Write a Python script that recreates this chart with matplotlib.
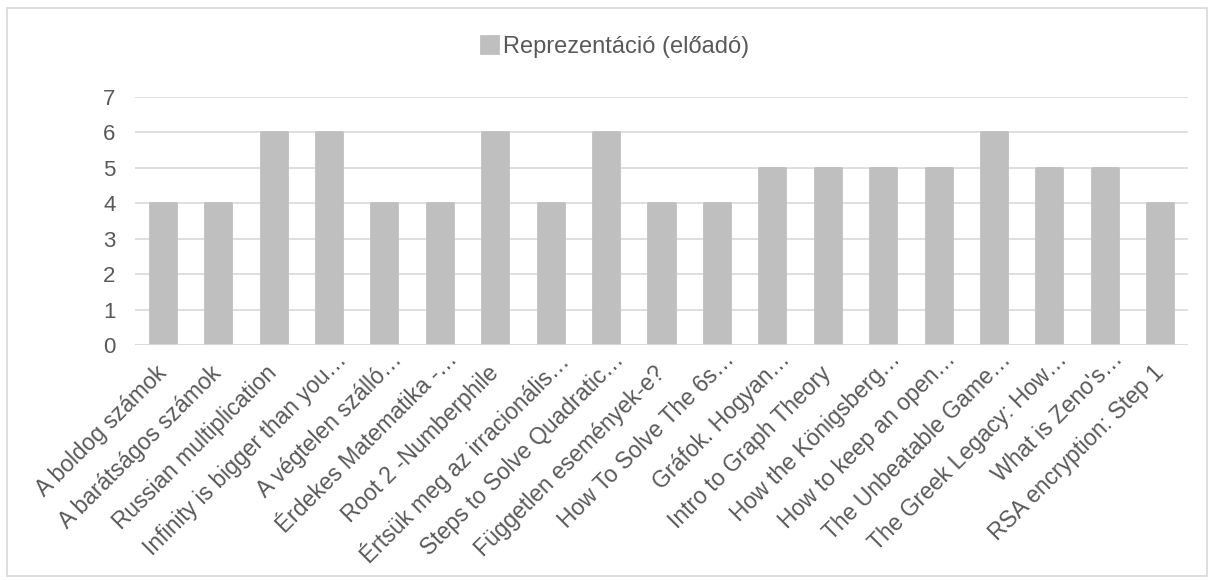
import matplotlib
matplotlib.use("Agg")
import matplotlib.pyplot as plt
from matplotlib.patches import Rectangle
from matplotlib.transforms import ScaledTranslation

categories = [
    "A boldog számok", "A barátságos számok", "Russian multiplication",
    "Infinity is bigger than you…", "A végtelen szálló…", "Érdekes Matematika -…",
    "Root 2 -Numberphile", "Értsük meg az irracionális…", "Steps to Solve Quadratic…",
    "Független események-e?", "How To Solve The 6s…", "Gráfok. Hogyan…",
    "Intro to Graph Theory", "How the Königsberg…", "How to keep an open…",
    "The Unbeatable Game…", "The Greek Legacy: How…", "What is Zeno's…",
    "RSA encryption: Step 1",
]
values = [4, 4, 6, 6, 4, 4, 6, 4, 6, 4, 4, 5, 5, 5, 5, 6, 5, 5, 4]
series_name = "Reprezentáció (előadó)"
yticks = [0, 1, 2, 3, 4, 5, 6, 7]

plt.rcParams['font.family'] = ['Liberation Sans', 'DejaVu Sans']
txt = '#595959'
xfs = 16.5
fig = plt.figure(figsize=(12.12, 5.8), dpi=100)
# chart border
fig.patches.append(Rectangle((7/1212, 1-576/580), 1200/1212, 568/580, transform=fig.transFigure,
                             fill=False, edgecolor='#d9d9d9', linewidth=1.2))
ax = fig.add_axes([135/1212, 1-345/580, 1053/1212, 248/580])
x = list(range(len(categories)))
bars = ax.bar(x, values, width=0.47, color='#bfbfbf', edgecolor='#bfbfbf',
              linewidth=2, joinstyle='round', zorder=3)
ax.set_xlim(-0.5, len(categories)-0.5)
ax.set_ylim(0, 7)
ax.set_yticks(yticks)
ax.yaxis.grid(True, color='#d9d9d9', linewidth=1.2, zorder=0)
for s in ax.spines.values():
    s.set_visible(False)
ax.axhline(0, color='#d9d9d9', linewidth=1.2, zorder=4)
ax.tick_params(axis='both', length=0, colors=txt, labelsize=16)
ax.tick_params(axis='y', pad=14)
ax.set_xticks(x)
labels = ax.set_xticklabels(categories, rotation=45, ha='right', rotation_mode='anchor', fontsize=xfs)
ax.tick_params(axis='x', pad=12)
# truncated labels: the ellipsis overhangs past the anchor, as in the original
shift = xfs * 0.85 / 72 * 0.7071
base_dx = -0.08
for t, c in zip(labels, categories):
    extra = shift if c.endswith("…") else 0.0
    t.set_transform(t.get_transform() + ScaledTranslation(base_dx + extra, extra, fig.dpi_scale_trans))
leg = fig.legend([bars[0]], [series_name], loc='center', bbox_to_anchor=(615/1212, 1-47/580),
                 frameon=False, fontsize=17, handlelength=0.7, handleheight=0.7, handletextpad=0.2,
                 labelcolor=txt)
fig.savefig("out.png", dpi=100)
